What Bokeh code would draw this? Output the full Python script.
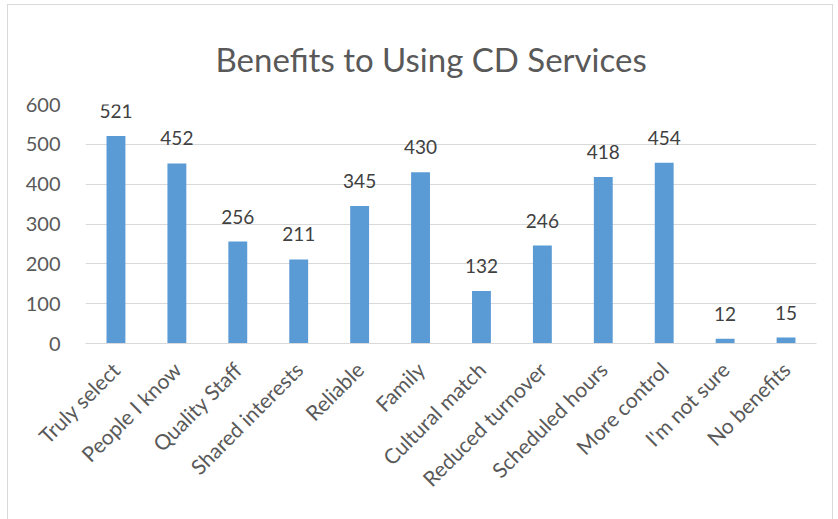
import math
from bokeh.plotting import figure
from bokeh.models import ColumnDataSource, LabelSet, FactorRange, Range1d, SingleIntervalTicker
from bokeh.core.properties import value
from bokeh.embed import file_html
from bokeh.resources import INLINE

categories = ["Truly select", "People I know", "Quality Staff", "Shared interests", "Reliable",
              "Family", "Cultural match", "Reduced turnover", "Scheduled hours", "More control",
              "I'm not sure", "No benefits"]
counts = [521, 452, 256, 211, 345, 430, 132, 246, 418, 454, 12, 15]
title_text = "Benefits to Using CD Services"

FONT = "Lato"
TXT = "#595959"

src = ColumnDataSource(dict(cat=categories, val=counts, lbl=[str(v) for v in counts]))

# figure drawn inside a thin grey border starting at (8, 5)
p = figure(width=826, height=520, x_range=FactorRange(*categories, range_padding=0),
           y_range=Range1d(0, 600), output_backend="svg", toolbar_location=None,
           min_border_left=77, min_border_right=18, min_border_top=99, min_border_bottom=182,
           title=title_text)
p.styles = {"margin-left": "7px", "margin-top": "4px", "border": "1px solid #d9d9d9"}
p.outline_line_color = None
p.background_fill_color = "white"
p.border_fill_color = "white"

p.title.align = "left"
p.title.offset = 130
p.title.text_font = FONT
p.title.text_font_size = "33px"
p.title.text_font_style = "normal"
p.title.text_color = TXT
p.title.standoff = 51

p.vbar(x="cat", top="val", width=0.31, source=src, fill_color="#5B9BD5", line_color=None)

p.add_layout(LabelSet(x="cat", y="val", text="lbl", source=src, y_offset=18,
                      text_align="center", text_baseline="bottom", text_color="#404040",
                      text_font=value(FONT), text_font_size="19px"))

p.yaxis.ticker = SingleIntervalTicker(interval=100)
p.yaxis.axis_line_color = None
p.yaxis.major_tick_line_color = None
p.yaxis.minor_tick_line_color = None
p.yaxis.major_label_text_font = FONT
p.yaxis.major_label_text_font_size = "20px"
p.yaxis.major_label_text_color = TXT
p.yaxis.major_label_standoff = 19

p.xaxis.axis_line_color = "#d9d9d9"
p.xaxis.major_tick_line_color = None
p.xaxis.minor_tick_line_color = None
p.xaxis.major_label_orientation = math.pi / 4
p.xaxis.major_label_text_font = FONT
p.xaxis.major_label_text_font_size = "21px"
p.xaxis.major_label_text_color = TXT
p.xaxis.major_label_standoff = 16

p.xgrid.grid_line_color = None
p.ygrid.grid_line_color = "#d9d9d9"

open("out.html", "w").write(file_html(p, INLINE))
